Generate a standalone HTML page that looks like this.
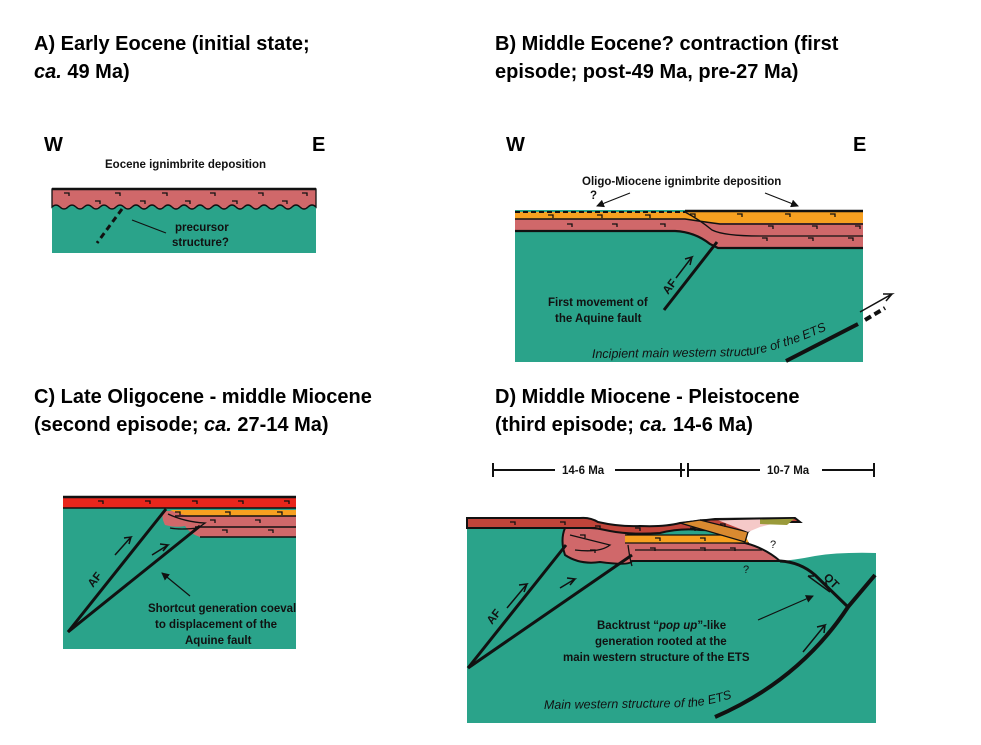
<!DOCTYPE html>
<html><head><meta charset="utf-8"><style>
body{margin:0;background:#fff;width:981px;height:745px;overflow:hidden}
svg{display:block}
text{font-family:"Liberation Sans",Arial,sans-serif}
.t{font-size:20px;font-weight:bold;fill:#000}
.s{font-size:11.5px;font-weight:bold;fill:#111}
.k{stroke:#111;fill:none}
</style></head><body>
<svg width="981" height="745" viewBox="0 0 981 745" xmlns="http://www.w3.org/2000/svg">
<defs>
<marker id="ar" markerWidth="8" markerHeight="8" refX="7" refY="4" orient="auto" markerUnits="userSpaceOnUse"><path d="M0,0 L8,4 L0,8 z" fill="#111"/></marker>
<path id="pb" d="M592,358 L745,356 Q790,350 860,314"/>
<path id="pd" d="M544,709 L690,707 Q730,703 770,682"/>
</defs>
<text class="t" x="34" y="50">A) Early Eocene (initial state;</text>
<text class="t" x="34" y="78"><tspan font-style="italic">ca.</tspan> 49 Ma)</text>
<text class="t" x="495" y="50">B) Middle Eocene? contraction (first</text>
<text class="t" x="495" y="78">episode; post-49 Ma, pre-27 Ma)</text>
<text class="t" x="34" y="403">C) Late Oligocene - middle Miocene</text>
<text class="t" x="34" y="431">(second episode; <tspan font-style="italic">ca.</tspan> 27-14 Ma)</text>
<text class="t" x="495" y="403">D) Middle Miocene - Pleistocene</text>
<text class="t" x="495" y="431">(third episode; <tspan font-style="italic">ca.</tspan> 14-6 Ma)</text>

<!-- Panel A -->
<text class="t" x="44" y="151" font-size="14">W</text>
<text class="t" x="312" y="151" font-size="14">E</text>
<text class="s" x="105" y="168">Eocene ignimbrite deposition</text>
<rect x="52" y="189" width="264" height="64" fill="#2aa38a"/>
<path d="M52,189 H316 V207 Q312,203 308,207 T300,207 T292,207 T284,207 T276,207 T268,207 T260,207 T252,207 T244,207 T236,207 T228,207 T220,207 T212,207 T204,207 T196,207 T188,207 T180,207 T172,207 T164,207 T156,207 T148,207 T140,207 T132,207 T124,207 T116,207 T108,207 T100,207 T92,207 T84,207 T76,207 T68,207 T60,207 T52,207 Z" fill="#d0686a" stroke="#111" stroke-width="1.3"/>
<line x1="52" y1="189" x2="316" y2="189" stroke="#111" stroke-width="2.5"/>
<g class="k" stroke-width="1.3"><path d="M64,193h5v3M115,193h5v3M162,193h5v3M210,193h5v3M258,193h5v3M302,193h5v3M95,201h5v3M140,201h5v3M185,201h5v3M232,201h5v3M282,201h5v3"/></g>
<line x1="122" y1="209" x2="97" y2="243" stroke="#111" stroke-width="3" stroke-dasharray="6,4"/>
<line x1="132" y1="220" x2="166" y2="233" stroke="#111" stroke-width="1.2"/>
<text class="s" x="175" y="231">precursor</text>
<text class="s" x="172" y="246">structure?</text>

<!-- Panel B -->
<text class="t" x="506" y="151" font-size="14">W</text>
<text class="t" x="853" y="151" font-size="14">E</text>
<text class="s" x="582" y="185">Oligo-Miocene ignimbrite deposition</text>
<text class="s" x="590" y="199">?</text>
<line x1="630" y1="193" x2="597" y2="206" stroke="#111" stroke-width="1.2" marker-end="url(#ar)"/>
<line x1="765" y1="193" x2="798" y2="206" stroke="#111" stroke-width="1.2" marker-end="url(#ar)"/>
<rect x="515" y="210" width="348" height="152" fill="#2aa38a"/>
<path d="M515,212 H863 V248 H718 L708,242 Q695,232 675,231 H515 Z" fill="#d0686a"/>
<path d="M515,212 H863 V223 H720 Q700,222 685,219 H515 Z" fill="#f7a020"/>
<path d="M515,219 H685 Q705,222 720,224 H863" class="k" stroke-width="1.6"/>
<path d="M685,212 Q700,220 712,230 Q724,236 760,236 H863" class="k" stroke-width="1.3"/>
<path d="M515,231 H675 Q695,232 710,244 L718,248 H863" class="k" stroke-width="2.2"/>
<line x1="515" y1="212" x2="685" y2="212" stroke="#111" stroke-width="2" stroke-dasharray="5,3"/>
<line x1="685" y1="211" x2="863" y2="211" stroke="#111" stroke-width="2.5"/>
<g class="k" stroke-width="1.3"><path d="M548,215h5v3M597,215h5v3M645,215h5v3M690,214h5v3M737,214h5v3M785,214h5v3M830,214h5v3M567,224h5v3M612,224h5v3M660,224h5v3M768,226h5v3M812,226h5v3M855,226h5v3M762,238h5v3M808,238h5v3M848,238h5v3"/></g>
<line x1="664" y1="310" x2="717" y2="242" stroke="#111" stroke-width="3"/>
<path d="M676,278 L692,257 L685,259 M692,257 L690,265" class="k" stroke-width="1.5"/>
<text class="s" x="0" y="0" transform="translate(668,295) rotate(-53)" font-size="12">AF</text>
<text class="s" x="548" y="306">First movement of</text>
<text class="s" x="555" y="322">the Aquine fault</text>
<text font-size="12.5" font-style="italic" fill="#111"><textPath href="#pb">Incipient main western structure of the ETS</textPath></text>
<line x1="786" y1="361" x2="858" y2="324" stroke="#111" stroke-width="4"/>
<line x1="865" y1="320" x2="885" y2="308" stroke="#111" stroke-width="4" stroke-dasharray="7,4"/>
<path d="M860,312 L892,294 L883,294 M892,294 L886,301" class="k" stroke-width="1.5"/>

<!-- Panel C -->
<rect x="63" y="497" width="233" height="152" fill="#2aa38a"/>
<rect x="63" y="497" width="233" height="11" fill="#e8261c"/>
<line x1="63" y1="497" x2="296" y2="497" stroke="#111" stroke-width="2.5"/>
<line x1="63" y1="508" x2="296" y2="508" stroke="#111" stroke-width="1.5"/>
<path d="M165,511 H296 V537 H200 Q190,534 185,526 Q175,528 165,525 Q160,515 165,511 Z" fill="#d0686a"/>
<path d="M170,510 H296 V516 H190 Q178,514 170,510 Z" fill="#f7a020"/>
<path d="M175,516 H296 M195,527 H296 M200,537 H296" class="k" stroke-width="1.5"/>
<path d="M168,514 Q185,522 205,523 L198,528 Q180,530 170,528" class="k" stroke-width="1.3"/>
<g class="k" stroke-width="1.3"><path d="M98,501h5v3M145,501h5v3M192,501h5v3M238,501h5v3M284,501h5v3M175,512h5v3M225,512h5v3M277,512h5v3M210,520h5v3M255,520h5v3M222,530h5v3M268,530h5v3"/></g>
<line x1="68" y1="632" x2="166" y2="509" stroke="#111" stroke-width="3"/>
<line x1="68" y1="632" x2="200" y2="526" stroke="#111" stroke-width="3"/>
<path d="M115,555 L131,537 L124,538 M131,537 L129,544" class="k" stroke-width="1.5"/>
<path d="M152,555 L168,545 L160,544 M168,545 L163,551" class="k" stroke-width="1.5"/>
<text class="s" x="0" y="0" transform="translate(93,588) rotate(-52)" font-size="12">AF</text>
<line x1="190" y1="596" x2="162" y2="573" stroke="#111" stroke-width="1.2" marker-end="url(#ar)"/>
<text class="s" x="148" y="612">Shortcut generation coeval</text>
<text class="s" x="155" y="628">to displacement of the</text>
<text class="s" x="185" y="644">Aquine fault</text>

<!-- Panel D -->
<g stroke="#111" stroke-width="2"><line x1="493" y1="470" x2="685" y2="470"/><line x1="493" y1="463" x2="493" y2="477"/><line x1="681" y1="463" x2="681" y2="477"/><line x1="688" y1="463" x2="688" y2="477"/><line x1="874" y1="463" x2="874" y2="477"/><line x1="688" y1="470" x2="874" y2="470"/></g>
<rect x="555" y="462" width="60" height="15" fill="#fff"/><rect x="760" y="462" width="62" height="15" fill="#fff"/>
<text class="s" x="562" y="474" font-size="11">14-6 Ma</text>
<text class="s" x="767" y="474" font-size="11">10-7 Ma</text>
<rect x="467" y="528" width="409" height="195" fill="#2aa38a"/>
<path d="M740,525 H876 V553 Q840,552 815,556 Q795,560 780,561 L745,548 Z" fill="#fff"/>
<path d="M565,528 Q575,520 590,528 Q630,530 640,540 L700,541 L745,543 Q765,548 780,561 H632 Q630,566 600,562 Q580,565 565,555 Q560,540 565,528 Z" fill="#d0686a" stroke="#111" stroke-width="2"/>
<path d="M625,535 H745 L749,543 H625 Z" fill="#f7a020"/>
<path d="M625,535 H745 M625,543 H749 M635,550 H762" class="k" stroke-width="1.3"/>
<path d="M570,535 Q590,540 610,545 Q600,553 575,550 M628,545 Q630,560 632,566" class="k" stroke-width="1.3"/>
<path d="M780,561 H745" stroke="#111" stroke-width="2" stroke-dasharray="4,3"/>
<path d="M467,518 H580 Q590,517 598,522 Q620,527 640,526 Q665,527 680,523 L715,519 L795,518 L800,522 H760 L745,534 Q720,530 700,530 Q680,528 660,533 Q630,535 610,531 L595,528 L580,528 H467 Z" fill="#c0443a" stroke="#111" stroke-width="2"/>
<path d="M680,523 L745,542 L748,532 L700,520 Z" fill="#d98a30" stroke="#111" stroke-width="1.3"/>
<path d="M715,519 L795,518 L760,527 L748,532 Z" fill="#f5c9c8"/>
<path d="M760,519 L795,518 L787,525 L760,524 Z" fill="#9a9a3a"/>
<path d="M700,520 L795,518" class="k" stroke-width="1.5"/>
<g class="k" stroke-width="1.3"><path d="M510,522h5v3M560,522h5v3M595,526h5v3M635,528h5v3M690,528h5v3M720,524h5v3M580,535h5v3M590,550h5v3M655,538h5v3M700,538h5v3M650,548h5v3M700,548h5v3M730,548h5v3"/></g>
<text x="770" y="548" font-size="11" fill="#111">?</text>
<text x="743" y="573" font-size="11" fill="#111">?</text>
<line x1="468" y1="668" x2="566" y2="545" stroke="#111" stroke-width="3"/>
<line x1="468" y1="668" x2="632" y2="555" stroke="#111" stroke-width="3"/>
<path d="M780,561 Q800,562 815,575 L848,607" class="k" stroke-width="3"/>
<path d="M715,717 Q800,680 848,607 L875,575" class="k" stroke-width="4"/>
<path d="M507,608 L527,584 L519,585 M527,584 L524,592" class="k" stroke-width="1.5"/>
<path d="M560,588 L575,579 L567,578 M575,579 L570,585" class="k" stroke-width="1.5"/>
<path d="M808,576 L830,592 M808,576 L814,576" class="k" stroke-width="1.5"/>
<path d="M803,652 L825,625 L817,627 M825,625 L824,633" class="k" stroke-width="1.5"/>
<text class="s" x="0" y="0" transform="translate(492,625) rotate(-52)" font-size="12">AF</text>
<text class="s" x="0" y="0" transform="translate(823,578) rotate(45)" font-size="12">QT</text>
<line x1="758" y1="620" x2="813" y2="596" stroke="#111" stroke-width="1.2" marker-end="url(#ar)"/>
<text class="s" x="597" y="629" font-size="12">Backtrust “<tspan font-style="italic">pop up</tspan>”-like</text>
<text class="s" x="595" y="645" font-size="12">generation rooted at the</text>
<text class="s" x="563" y="661" font-size="12">main western structure of the ETS</text>
<text font-size="12.5" font-style="italic" fill="#111"><textPath href="#pd">Main western structure of the ETS</textPath></text>
</svg>
</body></html>
